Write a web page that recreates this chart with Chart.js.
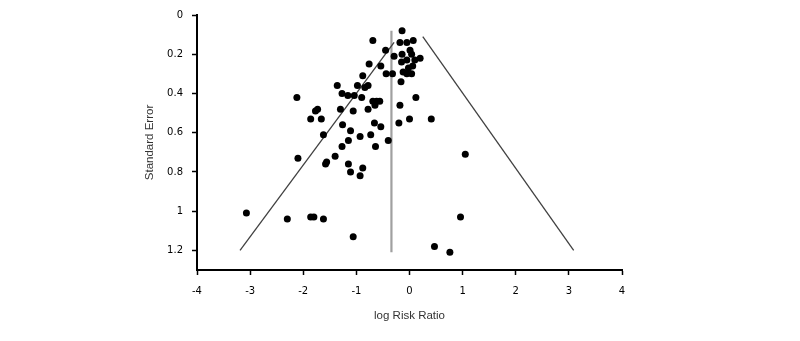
<!DOCTYPE html>
<html>
<head>
<meta charset="utf-8">
<script src="https://cdn.jsdelivr.net/npm/chart.js@4"></script>
<style>
  html, body { margin: 0; padding: 0; background: #fff; }
  #wrap { width: 800px; height: 341px; }
</style>
</head>
<body>
<div id="wrap"><canvas id="funnelChart" width="800" height="341"></canvas></div>
<script>
// study estimates (log risk ratio) and their standard errors
const logRR = [
  -0.14, -0.69, -0.18, -0.05, 0.07, -0.45, -0.29, -0.14, 0.01, 0.04,
  -0.05, 0.10, 0.20, -0.76, -0.54, -0.15, -0.02, 0.06, -0.12, -0.05,
  0.04, -0.88, -0.44, -0.32, -0.16, -0.98, -0.78, -0.84, -1.36, -1.27,
  -1.16, -1.04, -0.90, -2.12, -0.69, -0.62, -0.56, -0.65, 0.12, -0.18,
  -1.77, -1.73, -1.86, -1.66, -1.30, -1.06, -0.78, -1.26, -0.66, -0.54,
  -0.20, 0.00, 0.41, -1.11, -1.62, -0.73, -0.93, -1.15, -0.40, -1.27,
  -0.64, -2.10, -1.40, -1.56, -1.58, -1.15, 1.05, -1.11, -0.88, -0.93,
  -3.07, -2.30, -1.86, -1.80, -1.62, -1.06, 0.47, 0.76, 0.96
];
const stdErr = [
  0.08, 0.13, 0.14, 0.14, 0.13, 0.18, 0.21, 0.20, 0.18, 0.20,
  0.23, 0.23, 0.22, 0.25, 0.26, 0.24, 0.27, 0.26, 0.29, 0.30,
  0.30, 0.31, 0.30, 0.30, 0.34, 0.36, 0.36, 0.37, 0.36, 0.40,
  0.41, 0.41, 0.42, 0.42, 0.44, 0.44, 0.44, 0.46, 0.42, 0.46,
  0.49, 0.48, 0.53, 0.53, 0.48, 0.49, 0.48, 0.56, 0.55, 0.57,
  0.55, 0.53, 0.53, 0.59, 0.61, 0.61, 0.62, 0.64, 0.64, 0.67,
  0.67, 0.73, 0.72, 0.75, 0.76, 0.76, 0.71, 0.80, 0.78, 0.82,
  1.01, 1.04, 1.03, 1.03, 1.04, 1.13, 1.18, 1.21, 1.03
];

// funnel limits and pooled estimate
const funnelLeftX = [-3.19, -0.29];
const funnelLeftY = [1.20, 0.14];
const funnelRightX = [0.25, 3.09];
const funnelRightY = [0.11, 1.20];
const pooledX = [-0.34, -0.34];
const pooledY = [0.08, 1.21];

const xTicks = [-4, -3, -2, -1, 0, 1, 2, 3, 4];
const yTicks = [0, 0.2, 0.4, 0.6, 0.8, 1, 1.2];

function pairs(xs, ys) {
  return xs.map((x, i) => ({ x: x, y: ys[i] }));
}

const tickFont = { family: 'DejaVu Sans', size: 10 };
const titleFont = { family: 'Liberation Sans', size: 11.5 };

const ctx = document.getElementById('funnelChart').getContext('2d');
new Chart(ctx, {
  type: 'scatter',
  data: {
    datasets: [
      {
        label: 'Studies',
        data: pairs(logRR, stdErr),
        backgroundColor: '#000',
        borderColor: '#000',
        pointRadius: 3.5,
        pointBorderWidth: 0
      },
      {
        label: 'Left limit',
        data: pairs(funnelLeftX, funnelLeftY),
        showLine: true,
        borderColor: '#404040',
        borderWidth: 1.3,
        pointRadius: 0
      },
      {
        label: 'Right limit',
        data: pairs(funnelRightX, funnelRightY),
        showLine: true,
        borderColor: '#404040',
        borderWidth: 1.3,
        pointRadius: 0
      },
      {
        label: 'Pooled',
        data: pairs(pooledX, pooledY),
        showLine: true,
        borderColor: '#a0a0a0',
        borderWidth: 2.2,
        pointRadius: 0
      }
    ]
  },
  options: {
    responsive: false,
    animation: false,
    layout: { padding: { left: 140, right: 178, top: 12, bottom: 0 } },
    plugins: {
      legend: { display: false },
      tooltip: { enabled: false }
    },
    scales: {
      x: {
        type: 'linear',
        min: -4,
        max: 4,
        afterFit: (s) => { s.height = 71; },
        afterBuildTicks: (s) => { s.ticks = xTicks.map(v => ({ value: v })); },
        border: { display: true, color: '#000', width: 2 },
        grid: { drawOnChartArea: false, drawTicks: true, tickLength: 5, tickColor: '#000', tickWidth: 1.5 },
        ticks: { color: '#000', font: tickFont, padding: 10, maxRotation: 0, callback: (v) => String(v) },
        title: { display: true, text: 'log Risk Ratio', color: '#333', font: titleFont, padding: { top: 0, bottom: 18 } }
      },
      y: {
        type: 'linear',
        min: 0,
        max: 1.3,
        reverse: true,
        afterFit: (s) => { s.width = 57; },
        afterBuildTicks: (s) => { s.ticks = yTicks.map(v => ({ value: v })); },
        border: { display: true, color: '#000', width: 2 },
        grid: { drawOnChartArea: false, drawTicks: true, tickLength: 5, tickColor: '#000', tickWidth: 1.5 },
        ticks: { color: '#000', font: tickFont, padding: 9, callback: (v) => String(Math.round(v * 10) / 10) },
        title: { display: true, text: 'Standard Error', color: '#333', font: titleFont, padding: { top: 3, bottom: 0 } }
      }
    }
  }
});
</script>
</body>
</html>
